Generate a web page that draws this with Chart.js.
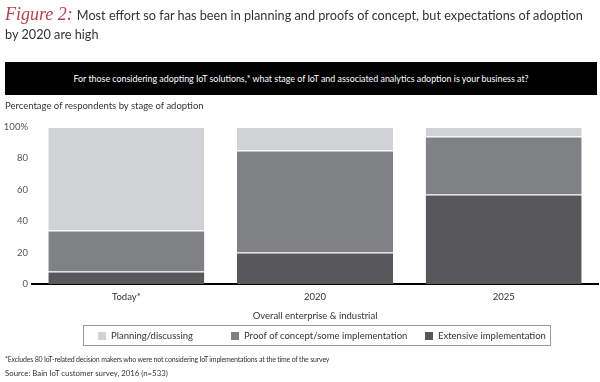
<!DOCTYPE html>
<html>
<head>
<meta charset="utf-8">
<script src="https://cdn.jsdelivr.net/npm/chart.js@4.4.0/dist/chart.umd.min.js"></script>
<style>
  html, body { margin:0; padding:0; background:#fff; }
  body { width:600px; height:382px; position:relative; overflow:hidden; font-family: Lato, "Open Sans", sans-serif; color:#333; }
  #c { position:absolute; left:0; top:0; }
  .t { position:absolute; white-space:nowrap; }
  #title1 { left:5px; top:4px; font-size:12.7px; }
  #title1 .fig { font-family:"Liberation Serif", serif; font-style:italic; color:#b8404f; font-size:18px; margin-right:4px; }
  #title2 { left:5px; top:26px; font-size:12.7px; }
  #banner { position:absolute; left:5px; top:62px; width:592px; height:33px; background:#000; color:#fff; font-size:8.9px; text-align:center; line-height:33px; }
  #sub { left:5px; top:100px; font-size:9.5px; }
  #legend { position:absolute; left:83px; top:325px; width:468px; height:21px; border:1px solid #9a9a9a; box-sizing:border-box; font-size:9.5px; }
  .li { position:absolute; top:4px; line-height:12px; }
  .sw { display:inline-block; width:8px; height:8px; margin-right:5px; vertical-align:-0.5px; }
  #foot1 { left:5px; top:355px; font-size:7px; letter-spacing:-0.2px; }
  #foot2 { left:5px; top:368px; font-size:7.8px; }
</style>
</head>
<body>
<canvas id="c" width="600" height="382"></canvas>
<div class="t" id="title1"><span class="fig">Figure 2:</span>Most effort so far has been in planning and proofs of concept, but expectations of adoption</div>
<div class="t" id="title2">by 2020 are high</div>
<div id="banner">For those considering adopting IoT solutions,* what stage of IoT and associated analytics adoption is your business at?</div>
<div class="t" id="sub">Percentage of respondents by stage of adoption</div>
<div id="legend"></div>
<div class="t" id="foot1">*Excludes 80 IoT-related decision makers who were not considering IoT implementations at the time of the survey</div>
<div class="t" id="foot2">Source: Bain IoT customer survey, 2016 (n=533)</div>
<script>
const categories = ["Today*", "2020", "2025"];
const extensive = [8, 20, 57];
const proof = [26, 65, 37];
const planning = [66, 15, 6];
const yTicks = [0, 20, 40, 60, 80, 100];
const seriesNames = ["Planning/discussing", "Proof of concept/some implementation", "Extensive implementation"];
const seriesColors = ["#d1d2d4", "#808184", "#58585a"];

const sepBorder = { top: 1, bottom: 0, left: 0, right: 0 };
const sepColor = 'rgba(255,255,255,0.3)';
const chart = new Chart(document.getElementById('c'), {
  type: 'bar',
  data: {
    labels: categories,
    datasets: [
      { label: seriesNames[2], data: extensive, backgroundColor: seriesColors[2], borderColor: sepColor, borderWidth: sepBorder, borderSkipped: false },
      { label: seriesNames[1], data: proof, backgroundColor: seriesColors[1], borderColor: sepColor, borderWidth: sepBorder, borderSkipped: false },
      { label: seriesNames[0], data: planning, backgroundColor: seriesColors[0], borderColor: sepColor, borderWidth: sepBorder, borderSkipped: false }
    ]
  },
  options: {
    responsive: false,
    animation: false,
    events: [],
    layout: { padding: { top: 127, left: 0, right: 2, bottom: 58 } },
    datasets: { bar: { categoryPercentage: 1.0, barPercentage: 0.827 } },
    plugins: { legend: { display: false }, tooltip: { enabled: false } },
    scales: {
      x: {
        stacked: true,
        grid: { display: false, drawTicks: false },
        border: { display: true, color: '#000', width: 2 },
        ticks: { color: '#333', font: { family: 'Lato', size: 9.5 }, padding: 7 },
        title: { display: true, text: 'Overall enterprise & industrial', color: '#333', font: { family: 'Lato', size: 9.5 }, padding: { top: 0, bottom: 2 } },
        afterFit: s => { s.height = 40; }
      },
      y: {
        stacked: true,
        min: 0, max: 100,
        afterBuildTicks: s => { s.ticks = yTicks.map(v => ({ value: v })); },
        grid: { display: false, drawTicks: false },
        border: { display: false },
        ticks: { color: '#555', font: { family: 'Lato', size: 9.5 }, padding: 4,
                 callback: v => v === 100 ? '100%' : String(v) },
        afterFit: s => { s.width = 32; }
      }
    }
  }
});

const lg = document.getElementById('legend');
const pos = [14, 147, 341];
seriesNames.forEach((n, i) => {
  const d = document.createElement('div');
  d.className = 'li';
  d.style.left = pos[i] + 'px';
  d.innerHTML = '<span class="sw" style="background:' + seriesColors[i] + '"></span>' + n;
  lg.appendChild(d);
});
</script>
</body>
</html>
